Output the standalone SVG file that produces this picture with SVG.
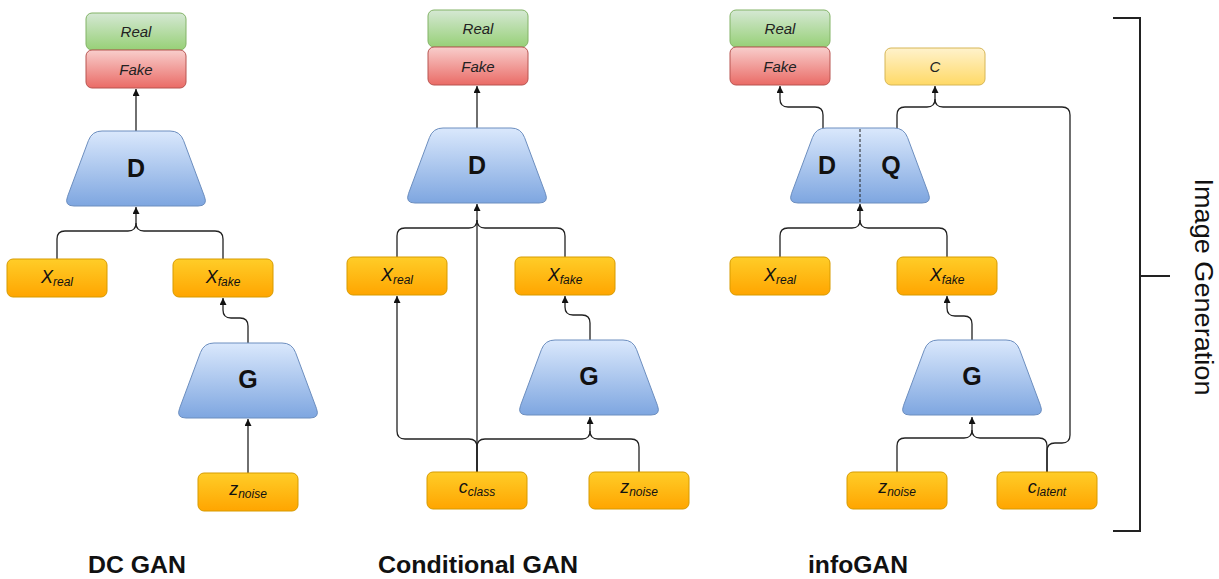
<svg xmlns="http://www.w3.org/2000/svg" xmlns:xlink="http://www.w3.org/1999/xlink" width="1219" height="579" viewBox="0 0 1219 579">
  <defs>
    <linearGradient id="gGreen" x1="0" y1="0" x2="0" y2="1">
      <stop offset="0" stop-color="#d5e8d4"/>
      <stop offset="1" stop-color="#97d077"/>
    </linearGradient>
    <linearGradient id="gRed" x1="0" y1="0" x2="0" y2="1">
      <stop offset="0" stop-color="#f8cecc"/>
      <stop offset="1" stop-color="#ea6b66"/>
    </linearGradient>
    <linearGradient id="gBlue" x1="0" y1="0" x2="0" y2="1">
      <stop offset="0" stop-color="#dae8fc"/>
      <stop offset="1" stop-color="#7ea6e0"/>
    </linearGradient>
    <linearGradient id="gOrange" x1="0" y1="0" x2="0" y2="1">
      <stop offset="0" stop-color="#ffcd28"/>
      <stop offset="1" stop-color="#ffa500"/>
    </linearGradient>
    <linearGradient id="gYellow" x1="0" y1="0" x2="0" y2="1">
      <stop offset="0" stop-color="#fff2cc"/>
      <stop offset="1" stop-color="#ffd966"/>
    </linearGradient>
    <!-- rounded trapezoid used for the D, G and D|Q networks (144 x 75) -->
    <path id="trap" d="M38,0 L106,0 Q116,0 119.5,9.4 L140.5,65.6 Q144,75 134,75 L10,75 Q0,75 3.5,65.6 L24.5,9.4 Q28,0 38,0 Z"/>
    <marker id="arrow" markerUnits="userSpaceOnUse" markerWidth="8" markerHeight="8" refX="7" refY="3.5" orient="auto">
      <path d="M0,0 L7,3.5 L0,7 Z" fill="#111"/>
    </marker>
  </defs>
  <style>
    .real { fill: url(#gGreen); stroke: #82b366; stroke-width: 1; }
    .fake { fill: url(#gRed); stroke: #b85450; stroke-width: 1; }
    .net { fill: url(#gBlue); stroke: #6c8ebf; stroke-width: 1; }
    .var { fill: url(#gOrange); stroke: #d79b00; stroke-width: 1; }
    .code { fill: url(#gYellow); stroke: #d6b656; stroke-width: 1; }
    .lbl { font-family: "Liberation Sans", Arial, sans-serif; font-style: italic; font-size: 15px; fill: #222; text-anchor: middle; }
    .sym { font-family: "Liberation Sans", Arial, sans-serif; font-style: italic; font-size: 18px; fill: #111; text-anchor: middle; }
    .sub { font-size: 12px; }
    .netlbl { font-family: "Liberation Sans", Arial, sans-serif; font-weight: bold; font-size: 25px; fill: #111; text-anchor: middle; }
    .title { font-family: "Liberation Sans", Arial, sans-serif; font-weight: bold; font-size: 23px; fill: #111; }
    .side { font-family: "Liberation Sans", Arial, sans-serif; font-size: 25px; fill: #111; text-anchor: middle; }
    .edge { fill: none; stroke: #222; stroke-width: 1.3; }
    .arr { marker-end: url(#arrow); }
    .bracket { fill: none; stroke: #222; stroke-width: 2; }
  </style>

  <!-- connectors -->
  <g id="connectors">
    <!-- DC GAN -->
    <path class="edge arr" d="M136,131 L136,89"/>
    <path class="edge arr" d="M57,259 L57,239 Q57,231 65,231 L128,231 Q136,231 136,223 L136,207"/>
    <path class="edge" d="M223,259 L223,239 Q223,231 215,231 L144,231 Q136,231 136,223"/>
    <path class="edge arr" d="M248,343 L248,326 Q248,318 240,318 L231,318 Q223,318 223,310 L223,298"/>
    <path class="edge arr" d="M248,473 L248,419"/>

    <!-- Conditional GAN -->
    <path class="edge arr" d="M477,128 L477,86"/>
    <path class="edge arr" d="M477,472 L477,204"/>
    <path class="edge" d="M397,257 L397,236 Q397,228 405,228 L469,228 Q477,228 477,220"/>
    <path class="edge" d="M565,257 L565,236 Q565,228 557,228 L485,228 Q477,228 477,220"/>
    <path class="edge arr" d="M477,472 L477,447 Q477,439 469,439 L405,439 Q397,439 397,431 L397,296"/>
    <path class="edge arr" d="M477,472 L477,447 Q477,439 485,439 L582,439 Q590,439 590,431 L590,417"/>
    <path class="edge" d="M639,472 L639,447 Q639,439 631,439 L598,439 Q590,439 590,431"/>
    <path class="edge arr" d="M590,340 L590,323 Q590,315 582,315 L573,315 Q565,315 565,307 L565,296"/>

    <!-- infoGAN -->
    <path class="edge arr" d="M823,128 L823,115 Q823,107 815,107 L788,107 Q780,107 780,99 L780,86"/>
    <path class="edge arr" d="M897,128 L897,115 Q897,107 905,107 L927,107 Q935,107 935,99 L935,86"/>
    <path class="edge" d="M1047,472 L1047,451 Q1047,443 1055,443 L1062,443 Q1070,443 1070,435 L1070,115 Q1070,107 1062,107 L943,107 Q935,107 935,99"/>
    <path class="edge arr" d="M780,257 L780,236 Q780,228 788,228 L852,228 Q860,228 860,220 L860,204"/>
    <path class="edge" d="M947,257 L947,236 Q947,228 939,228 L868,228 Q860,228 860,220"/>
    <path class="edge arr" d="M972,340 L972,324 Q972,316 964,316 L955,316 Q947,316 947,308 L947,296"/>
    <path class="edge arr" d="M897,472 L897,446 Q897,438 905,438 L964,438 Q972,438 972,430 L972,417"/>
    <path class="edge" d="M1047,472 L1047,446 Q1047,438 1039,438 L980,438 Q972,438 972,430"/>
  </g>

  <!-- DC GAN nodes -->
  <g id="dc-output">
    <rect class="real" x="86" y="13" width="100" height="37" rx="6"/>
    <text class="lbl" x="136" y="37">Real</text>
    <rect class="fake" x="86" y="50" width="100" height="38" rx="6"/>
    <text class="lbl" x="136" y="74.5">Fake</text>
  </g>
  <g id="dc-d">
    <use xlink:href="#trap" class="net" transform="translate(64,131)"/>
    <text class="netlbl" x="136" y="177">D</text>
  </g>
  <g id="dc-xreal">
    <rect class="var" x="7" y="259" width="100" height="38" rx="6"/>
    <text class="sym" x="57" y="283">X<tspan class="sub" dy="2.5">real</tspan></text>
  </g>
  <g id="dc-xfake">
    <rect class="var" x="173" y="259" width="100" height="38" rx="6"/>
    <text class="sym" x="223" y="283">X<tspan class="sub" dy="2.5">fake</tspan></text>
  </g>
  <g id="dc-g">
    <use xlink:href="#trap" class="net" transform="translate(176,343)"/>
    <text class="netlbl" x="248" y="388">G</text>
  </g>
  <g id="dc-znoise">
    <rect class="var" x="198" y="473" width="100" height="38" rx="6"/>
    <text class="sym" x="248" y="495">z<tspan class="sub" dy="2.5">noise</tspan></text>
  </g>

  <!-- Conditional GAN nodes -->
  <g id="cond-output">
    <rect class="real" x="428" y="10" width="100" height="37" rx="6"/>
    <text class="lbl" x="478" y="34">Real</text>
    <rect class="fake" x="428" y="47" width="100" height="38" rx="6"/>
    <text class="lbl" x="478" y="71.5">Fake</text>
  </g>
  <g id="cond-d">
    <use xlink:href="#trap" class="net" transform="translate(405,128)"/>
    <text class="netlbl" x="477" y="174">D</text>
  </g>
  <g id="cond-xreal">
    <rect class="var" x="347" y="257" width="100" height="38" rx="6"/>
    <text class="sym" x="397" y="281">X<tspan class="sub" dy="2.5">real</tspan></text>
  </g>
  <g id="cond-xfake">
    <rect class="var" x="515" y="257" width="100" height="38" rx="6"/>
    <text class="sym" x="565" y="281">X<tspan class="sub" dy="2.5">fake</tspan></text>
  </g>
  <g id="cond-g">
    <use xlink:href="#trap" class="net" transform="translate(517,340)"/>
    <text class="netlbl" x="589" y="385">G</text>
  </g>
  <g id="cond-cclass">
    <rect class="var" x="427" y="472" width="100" height="37" rx="6"/>
    <text class="sym" x="477" y="493">c<tspan class="sub" dy="2.5">class</tspan></text>
  </g>
  <g id="cond-znoise">
    <rect class="var" x="589" y="472" width="100" height="37" rx="6"/>
    <text class="sym" x="639" y="493">z<tspan class="sub" dy="2.5">noise</tspan></text>
  </g>

  <!-- infoGAN nodes -->
  <g id="info-output">
    <rect class="real" x="730" y="10" width="100" height="37" rx="6"/>
    <text class="lbl" x="780" y="34">Real</text>
    <rect class="fake" x="730" y="47" width="100" height="38" rx="6"/>
    <text class="lbl" x="780" y="71.5">Fake</text>
  </g>
  <g id="info-c">
    <rect class="code" x="885" y="48" width="100" height="37" rx="6"/>
    <text class="lbl" x="935" y="71.5">C</text>
  </g>
  <g id="info-dq">
    <use xlink:href="#trap" class="net" transform="translate(788,128)"/>
    <line x1="860" y1="129" x2="860" y2="203" stroke="#222" stroke-width="1" stroke-dasharray="3,2"/>
    <text class="netlbl" x="827" y="174">D</text>
    <text class="netlbl" x="891" y="174">Q</text>
  </g>
  <g id="info-xreal">
    <rect class="var" x="730" y="257" width="100" height="38" rx="6"/>
    <text class="sym" x="780" y="281">X<tspan class="sub" dy="2.5">real</tspan></text>
  </g>
  <g id="info-xfake">
    <rect class="var" x="897" y="257" width="100" height="38" rx="6"/>
    <text class="sym" x="947" y="281">X<tspan class="sub" dy="2.5">fake</tspan></text>
  </g>
  <g id="info-g">
    <use xlink:href="#trap" class="net" transform="translate(900,340)"/>
    <text class="netlbl" x="972" y="385">G</text>
  </g>
  <g id="info-znoise">
    <rect class="var" x="847" y="472" width="100" height="37" rx="6"/>
    <text class="sym" x="897" y="493">z<tspan class="sub" dy="2.5">noise</tspan></text>
  </g>
  <g id="info-clatent">
    <rect class="var" x="997" y="472" width="100" height="37" rx="6"/>
    <text class="sym" x="1047" y="493">c<tspan class="sub" dy="2.5">latent</tspan></text>
  </g>

  <!-- model titles -->
  <g id="titles">
    <text class="title" x="88" y="573" textLength="98" lengthAdjust="spacingAndGlyphs">DC GAN</text>
    <text class="title" x="378" y="573" textLength="200" lengthAdjust="spacingAndGlyphs">Conditional GAN</text>
    <text class="title" x="808" y="573" textLength="100" lengthAdjust="spacingAndGlyphs">infoGAN</text>
  </g>

  <!-- bracket grouping the three models -->
  <g id="image-generation">
    <path class="bracket" d="M1113,18 L1140,18 L1140,531 L1113,531"/>
    <path class="bracket" d="M1140,276 L1170,276"/>
    <text class="side" transform="translate(1195,287) rotate(90)" textLength="217" lengthAdjust="spacingAndGlyphs">Image Generation</text>
  </g>
</svg>
